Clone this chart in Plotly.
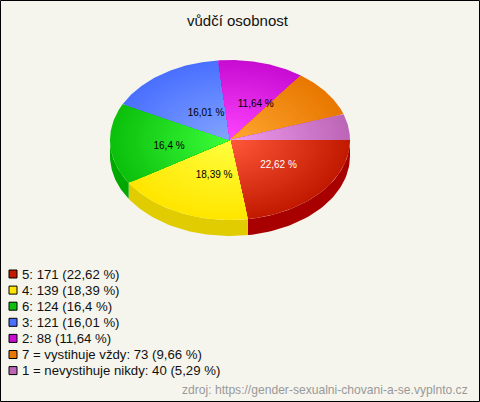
import math
import plotly.graph_objects as go

categories = ["5", "4", "6", "3", "2", "7 = vystihuje vždy", "1 = nevystihuje nikdy"]
counts = [171, 139, 124, 121, 88, 73, 40]
percent_text = ["22,62", "18,39", "16,4", "16,01", "11,64", "9,66", "5,29"]
edge_colors = ["#c21a00", "#ffe600", "#0cc00c", "#4a70ff", "#c80cd2", "#e87800", "#bd66b8"]
centre_colors = ["#ff5a3c", "#ffff40", "#3cff3c", "#84a6ff", "#ff46ff", "#ffa832", "#f09cf0"]
side_colors = ["#a80000", "#e0cc00", "#00a800", "#3050d0", "#a000a8", "#c06000", "#984890"]
label_colors = ["white", "black", "black", "black", "black", None, None]
label_nudge = [(3, -1), (9, -1), (-1, 5), (10, 6), (10, 3), (0, 0), (0, 0)]

CX, CY, RX, RY, DEPTH = 230, 140, 120, 80, 16
BG = "#f5f5ed"
FONT = "Liberation Sans, Arial, sans-serif"
RINGS = 36


def hex_rgb(c):
    return [int(c[i:i + 2], 16) for i in (1, 3, 5)]


def lerp(a, b, t):
    ca, cb = hex_rgb(a), hex_rgb(b)
    return "rgb(%d,%d,%d)" % tuple(round(x + (y - x) * t) for x, y in zip(ca, cb))


total = sum(counts)
bounds = [0.0]
for v in counts:
    bounds.append(bounds[-1] + v / total * 2 * math.pi)

fig = go.Figure()


def poly(xs, ys, color):
    fig.add_trace(go.Scatter(x=xs, y=ys, mode="lines", fill="toself", fillcolor=color,
                             line=dict(width=0, color=color), hoverinfo="skip", showlegend=False))


# Rim: only the front half of the disc
for i in range(len(counts)):
    a0, a1 = bounds[i], min(bounds[i + 1], math.pi)
    if a0 >= math.pi:
        continue
    steps = [a0 + (a1 - a0) * k / 40 for k in range(41)]
    xs = [CX + RX * math.cos(a) for a in steps]
    top = [CY + RY * math.sin(a) for a in steps]
    poly(xs + xs[::-1], [y + DEPTH for y in top] + top[::-1], side_colors[i])

# Top face: nested wedges build a radial gradient
for i in range(len(counts)):
    a0, a1 = bounds[i], bounds[i + 1]
    steps = [a0 + (a1 - a0) * k / 60 for k in range(61)]
    for r in range(RINGS, 0, -1):
        f = r / RINGS
        xs = [CX] + [CX + RX * f * math.cos(a) for a in steps] + [CX]
        ys = [CY] + [CY + RY * f * math.sin(a) for a in steps] + [CY]
        poly(xs, ys, lerp(centre_colors[i], edge_colors[i], f))

# Slice labels
for i in range(len(counts)):
    if label_colors[i] is None:
        continue
    mid = (bounds[i] + bounds[i + 1]) / 2
    fig.add_trace(go.Scatter(
        x=[CX + 0.5 * RX * math.cos(mid) + label_nudge[i][0]],
        y=[CY + 0.5 * RY * math.sin(mid) + label_nudge[i][1]],
        mode="text", text=[percent_text[i] + " %"], textposition="middle center",
        textfont=dict(family=FONT, size=10, color=label_colors[i]),
        hoverinfo="skip", showlegend=False))

# Legend
LEG_Y0, LEG_DY = 274, 16.1
leg_y = [LEG_Y0 + LEG_DY * i for i in range(len(counts))]
fig.add_trace(go.Scatter(
    x=[13] * len(counts), y=leg_y, mode="markers",
    marker=dict(symbol="square", size=8, color=edge_colors, line=dict(color="black", width=1)),
    hoverinfo="skip", showlegend=False))
for i, y in enumerate(leg_y):
    fig.add_annotation(x=20, y=y, xref="x", yref="y", xanchor="left", yanchor="middle", showarrow=False,
                       text=f"{categories[i]}: {counts[i]} ({percent_text[i]} %)",
                       font=dict(family=FONT, size=13.2, color="#111111"))

fig.add_annotation(x=470, y=390, xref="x", yref="y", xanchor="right", yanchor="middle", showarrow=False,
                   text="zdroj: https://gender-sexualni-chovani-a-se.vyplnto.cz",
                   font=dict(family=FONT, size=12.1, color="#999999"))
fig.add_annotation(x=238, y=20, xref="x", yref="y", xanchor="center", yanchor="middle", showarrow=False,
                   text="vůdčí osobnost", font=dict(family=FONT, size=15, color="#111111"))

fig.add_shape(type="rect", xref="x", yref="y", x0=0.5, y0=0.5, x1=479.5, y1=401.5,
              line=dict(color="black", width=1), fillcolor="rgba(0,0,0,0)")

fig.update_layout(
    width=480, height=402, autosize=False, margin=dict(l=0, r=0, t=0, b=0),
    paper_bgcolor=BG, plot_bgcolor=BG,
    xaxis=dict(range=[0, 480], visible=False, fixedrange=True),
    yaxis=dict(range=[402, 0], visible=False, fixedrange=True),
)
fig.write_html("out.html", config={"displayModeBar": False},
               post_script="document.body.style.margin='0';document.body.style.overflow='hidden';")
